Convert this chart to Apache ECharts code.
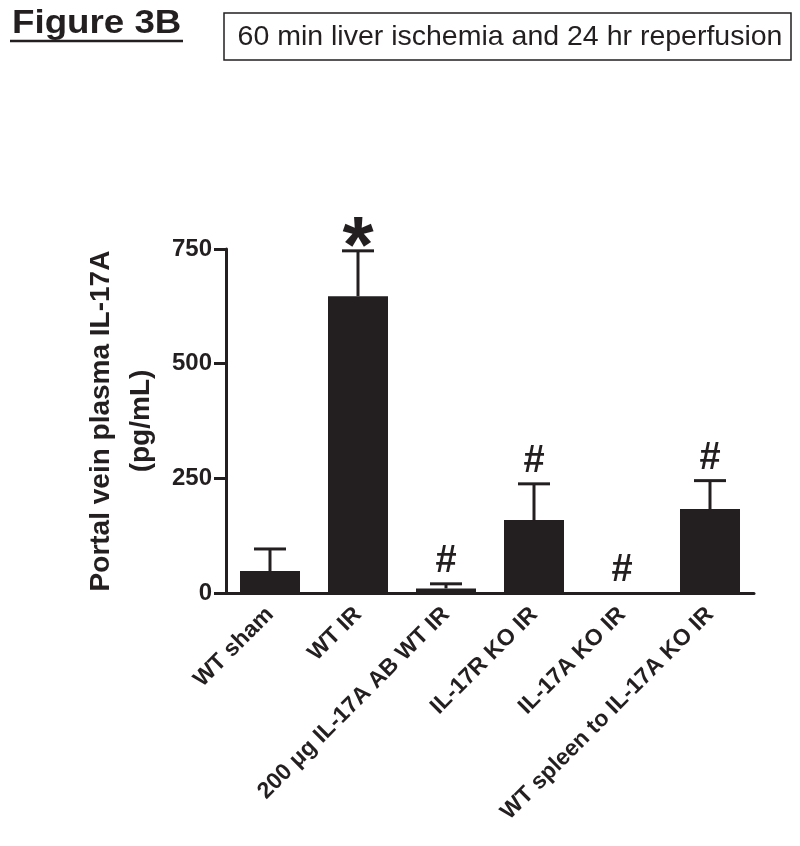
<!DOCTYPE html>
<html>
<head>
<meta charset="utf-8">
<script src="https://cdn.jsdelivr.net/npm/echarts@6/dist/echarts.min.js"></script>
<style>html,body{margin:0;padding:0;background:#fff;}#c{width:800px;height:846px;}</style>
</head>
<body>
<div id="c"></div>
<script>
const categories = ['WT sham', 'WT IR', '200 μg IL-17A AB WT IR', 'IL-17R KO IR', 'IL-17A KO IR', 'WT spleen to IL-17A KO IR'];
const means = [48, 647, 10, 159, 0, 183];
const errors = [48, 99, 10, 79, 0, 62];
const markers = ['', '*', '#', '#', '#', '#'];
const yTicks = [0, 250, 500, 750];

const INK = '#231f20';
const FONT = '"Liberation Sans", Arial, Helvetica, sans-serif';

const chart = echarts.init(document.getElementById('c'), null, {renderer: 'canvas'});

const errData = categories.map((c, i) => [i, means[i], errors[i]]);

chart.setOption({
  animation: false,
  backgroundColor: '#fff',
  grid: {left: 226, right: 46, top: 249, bottom: 253, containLabel: false},
  xAxis: {
    type: 'category',
    data: categories,
    axisLine: {lineStyle: {color: INK, width: 3}},
    axisTick: {alignWithLabel: true, length: 11, lineStyle: {color: INK, width: 3}},
    axisLabel: {rotate: 45, margin: 18, color: INK, fontFamily: FONT, fontWeight: 'bold', fontSize: 23, interval: 0}
  },
  yAxis: {
    type: 'value',
    min: yTicks[0], max: yTicks[yTicks.length - 1], interval: 250,
    splitLine: {show: false},
    axisLine: {show: true, lineStyle: {color: INK, width: 3}},
    axisTick: {show: true, length: 12, lineStyle: {color: INK, width: 3}},
    axisLabel: {color: INK, fontFamily: FONT, fontWeight: 'bold', fontSize: 24, margin: 14},
    name: 'Portal vein plasma IL-17A\n(pg/mL)',
    nameLocation: 'middle',
    nameRotate: 90,
    nameGap: 62,
    nameTextStyle: {color: INK, fontFamily: FONT, fontWeight: 'bold', fontSize: 28, lineHeight: 40, align: 'center'}
  },
  series: [
    {
      type: 'bar',
      data: means,
      barWidth: 60,
      itemStyle: {color: INK},
      z: 2
    },
    {
      type: 'custom',
      data: errData,
      z: 3,
      renderItem: function (params, api) {
        const i = api.value(0), m = api.value(1), e = api.value(2);
        const mk = markers[i];
        const p0 = api.coord([i, m]);
        const p1 = api.coord([i, m + e]);
        const hw = 16;
        const children = [];
        if (e > 0) {
          children.push({type: 'line', shape: {x1: p0[0], y1: p0[1], x2: p1[0], y2: p1[1]}, style: {stroke: INK, lineWidth: 3}});
          children.push({type: 'line', shape: {x1: p1[0] - hw, y1: p1[1], x2: p1[0] + hw, y2: p1[1]}, style: {stroke: INK, lineWidth: 3}});
        }
        if (mk === '*') {
          children.push({type: 'text', style: {text: '*', x: p1[0], y: p1[1] + 39, align: 'center', verticalAlign: 'bottom', fontFamily: FONT, fontWeight: 'bold', fontSize: 80, fill: INK}});
        } else if (mk === '#') {
          children.push({type: 'text', style: {text: '#', x: p1[0], y: p1[1] - 3, align: 'center', verticalAlign: 'bottom', fontFamily: FONT, fontWeight: 'bold', fontSize: 38, fill: INK}});
        }
        return {type: 'group', children: children};
      }
    }
  ],
  graphic: [
    {type: 'text', x: 12, y: 7, scaleX: 1.08, style: {text: 'Figure 3B', verticalAlign: 'top', fontFamily: FONT, fontWeight: 'bold', fontSize: 34, fill: INK}},
    {type: 'line', shape: {x1: 10, y1: 41, x2: 183, y2: 41}, style: {stroke: INK, lineWidth: 2.5}},
    {type: 'rect', shape: {x: 224, y: 13, width: 567, height: 47}, style: {fill: '#fff', stroke: INK, lineWidth: 1.5}},
    {type: 'text', x: 510, y: 37, style: {text: '60 min liver ischemia and 24 hr reperfusion', align: 'center', verticalAlign: 'middle', fontFamily: FONT, fontSize: 28.5, fill: INK}}
  ]
});
</script>
</body>
</html>
